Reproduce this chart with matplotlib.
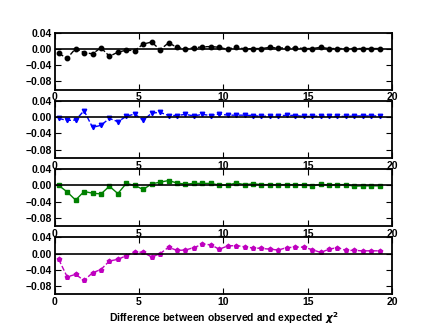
import numpy as np
import matplotlib
matplotlib.use("Agg")
import matplotlib.pyplot as plt

plt.rcParams['font.family'] = ['Liberation Sans', 'DejaVu Sans']
plt.rcParams['font.weight'] = 'bold'
plt.rcParams['font.size'] = 7.5
plt.rcParams['xtick.direction'] = 'in'
plt.rcParams['ytick.direction'] = 'in'

# chi^2 difference bins
x = np.arange(0.25, 19.3, 0.5)

black_vals = [-0.011, -0.023, 0.001, -0.009, -0.012, 0.003, -0.018, -0.008, -0.003, -0.004,
              0.012, 0.017, -0.002, 0.015, 0.004, 0.000, 0.003, 0.005, 0.006, 0.004,
              -0.001, 0.005, 0.000, 0.001, 0.001, 0.004, 0.002, 0.003, 0.003, 0.001,
              0.001, 0.004, 0.001, 0.001, 0.001, 0.001, 0.001, 0.001, 0.001]
blue_vals = [-0.003, -0.008, -0.007, 0.016, -0.025, -0.020, -0.003, -0.011, 0.002, 0.008,
             -0.008, 0.010, 0.012, 0.004, 0.004, 0.007, 0.003, 0.007, 0.004, 0.008,
             0.005, 0.005, 0.005, 0.004, 0.002, 0.003, 0.003, 0.005, 0.004, 0.002,
             0.002, 0.003, 0.002, 0.002, 0.002, 0.003, 0.003, 0.003, 0.003]
green_vals = [0.000, -0.016, -0.036, -0.015, -0.019, -0.021, -0.002, -0.020, 0.005, 0.000,
              -0.010, 0.004, 0.008, 0.012, 0.006, 0.003, 0.005, 0.005, 0.005, 0.001,
              0.001, 0.006, 0.002, 0.004, 0.002, 0.002, 0.002, 0.002, 0.002, 0.001,
              -0.001, 0.003, 0.001, 0.002, 0.002, -0.002, -0.001, -0.001, -0.001]
magenta_vals = [-0.014, -0.057, -0.051, -0.066, -0.047, -0.039, -0.018, -0.014, -0.005, 0.005,
                0.003, -0.008, 0.000, 0.016, 0.008, 0.009, 0.015, 0.023, 0.022, 0.011,
                0.019, 0.020, 0.017, 0.014, 0.013, 0.011, 0.009, 0.015, 0.016, 0.016,
                0.010, 0.003, 0.011, 0.015, 0.008, 0.008, 0.007, 0.007, 0.007]

series = [(black_vals, 'ko--'), (blue_vals, 'bv--'), (green_vals, 'gs-'), (magenta_vals, 'mp--')]

fig, axes = plt.subplots(4, 1, figsize=(4.36, 3.27), dpi=100)
fig.subplots_adjust(left=0.125, right=0.9, bottom=0.1, top=0.9, hspace=0.2)

for ax, (vals, fmt) in zip(axes, series):
    ax.plot(x, vals, fmt, ms=3.2, lw=1, mec=fmt[0])
    ax.axhline(0, color='k', lw=1.2)
    ax.set_xlim(0, 20)
    ax.set_ylim(-0.1, 0.04)
    ax.set_yticks([0.04, 0.0, -0.04, -0.08])
    ax.set_yticklabels(['0.04', '0.00', '\u22120.04', '\u22120.08'], fontweight='bold')
    ax.set_xticks([0, 5, 10, 15, 20])
    ax.set_xticklabels(['0', '5', '10', '15', '20'], fontweight='bold')
    ax.tick_params(top=True, right=True, length=4, width=0.8, pad=2)
    for s in ax.spines.values():
        s.set_linewidth(1.3)

axes[-1].set_xlabel(r'Difference between observed and expected $\chi^2$',
                    fontweight='bold', labelpad=2)

fig.savefig('out.png', dpi=100)
